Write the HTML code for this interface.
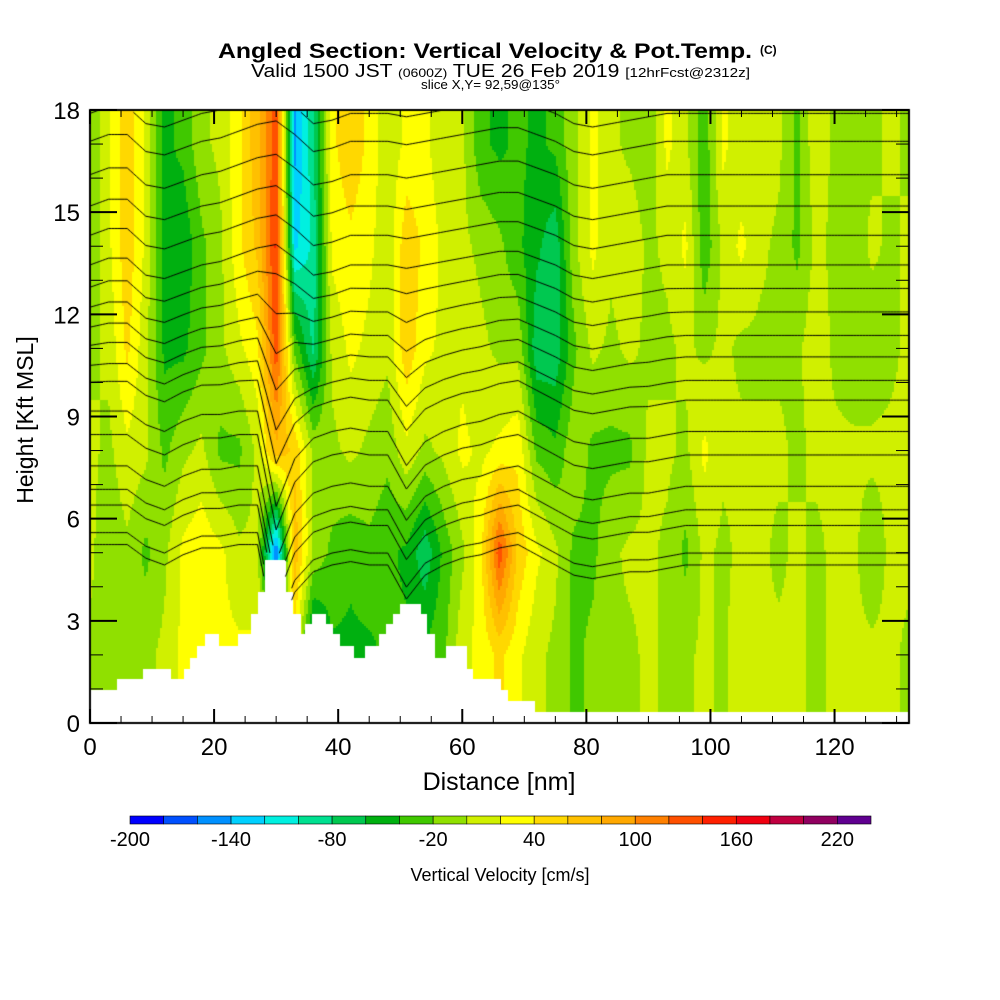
<!DOCTYPE html>
<html><head><meta charset="utf-8"><style>
html,body{margin:0;padding:0;background:#fff;width:1000px;height:1000px;overflow:hidden}
#wrap{position:relative;width:1000px;height:1000px}
canvas,svg{position:absolute;left:0;top:0}
text{font-family:"Liberation Sans",sans-serif;fill:#000}
</style></head><body>
<div id="wrap">
<canvas id="cv" width="1000" height="1000"></canvas>
<svg id="sv" width="1000" height="1000">
<text x="218" y="58" font-size="21" font-weight="bold" textLength="534" lengthAdjust="spacingAndGlyphs">Angled Section: Vertical Velocity &amp; Pot.Temp.</text>
<text x="760" y="54" font-size="12" font-weight="bold">(C)</text>
<text x="251" y="77" font-size="18" textLength="499" lengthAdjust="spacingAndGlyphs">Valid 1500 JST <tspan font-size="12">(0600Z)</tspan> TUE 26 Feb 2019 <tspan font-size="13">[12hrFcst@2312z]</tspan></text>
<text x="421" y="89" font-size="13" textLength="139" lengthAdjust="spacingAndGlyphs">slice X,Y= 92,59@135°</text>
<text transform="translate(33,420) rotate(-90)" text-anchor="middle" font-size="23">Height [Kft MSL]</text>
<text x="499" y="790" text-anchor="middle" font-size="25">Distance [nm]</text>
<text x="500" y="881" text-anchor="middle" font-size="18">Vertical Velocity [cm/s]</text>
<g id="g"></g>
</svg>
</div>
<script>
// ---- data ----
const colX = [0,3,6,9,12,15,18,21,24,27,30,33,36,39,42,45,48,51,54,57,60,63,66,69,72,75,78,81,84,87,90,93,96,99,102,105,108,111,114,117,120,123,126,129,132];
const rowH = [17,14,11,8,5,2];
const w17 = [-10,20,60,20,-40,-30,0,10,40,80,140,-140,-80,40,60,40,10,30,30,10,10,-30,-40,-30,-40,-30,0,30,10,0,-10,30,10,-30,30,10,20,10,-20,20,0,0,0,10,0];
const w14 = [-10,20,60,20,-40,-50,-20,0,40,70,150,-120,-90,30,40,30,10,60,40,20,10,0,-10,-30,-50,-70,0,30,10,20,0,10,30,-30,10,30,10,0,-20,10,0,-10,10,0,10];
const w11 = [0,10,50,10,-40,-40,-20,0,20,40,140,-20,-80,10,30,20,10,60,30,20,20,10,0,0,-70,-70,-20,10,0,10,0,0,10,0,10,0,0,0,0,20,0,-10,-10,0,10];
const w8  = [10,0,20,10,-20,0,10,-20,-20,10,80,60,0,0,10,0,-10,20,0,10,30,20,30,40,-20,-30,0,-20,-20,-20,10,10,0,30,10,10,10,10,0,10,10,10,10,10,10];
const w5  = [10,-10,0,-20,0,30,40,30,10,10,-160,80,0,-20,-30,-20,-30,-40,-70,-30,0,40,140,60,30,10,-20,-20,0,10,10,0,-20,10,0,10,10,0,10,0,10,10,-10,10,10];
const w2  = [0,0,-10,0,10,30,30,30,30,30,30,30,-80,-40,-40,-40,-30,-30,-30,-20,20,30,50,30,10,0,-20,-10,0,0,10,0,0,10,0,20,10,10,10,0,10,10,10,10,0];
const grid = [w17,w14,w11,w8,w5,w2];
const binColors = ["#0000ff","#0050ff","#0090ff","#00d0ff","#00f0e0","#00e090","#00c850","#00b010","#40c800","#90e000","#d0f000","#ffff00","#ffd800","#ffc000","#ffa800","#ff8000","#ff5000","#ff2000","#f00010","#c00040","#900060","#600090"];
const cbTicks = [-200,-140,-80,-20,40,100,160,220];
const terrStart = [0,4.3,8.6,12.9,15.1,16.1,17.3,18.5,20.5,23.8,26.0,27.0,28.2,31.4,32.5,33.7,34.6,35.8,37.8,38.9,40.1,42.2,44.4,46.6,47.7,48.8,49.9,53.0,54.1,55.3,57.4,60.5,61.6,66.0,67.1,71.5];
const terrH = [0.97,1.3,1.6,1.3,1.6,1.9,2.26,2.6,2.26,2.6,3.2,3.85,4.8,3.85,3.2,2.6,2.9,3.2,2.9,2.6,2.26,1.9,2.26,2.6,2.9,3.2,3.5,3.2,2.6,1.9,2.26,1.6,1.3,0.97,0.65,0.32];
const thetaLevels = [17.9,17.08,16.1,15.18,14.32,13.45,12.76,12.07,11.38,10.75,10.06,9.48,8.56,7.87,6.95,6.26,5.8,4.99,4.64];
const dispUpper = [0,.2,.2,-.3,-.4,-.2,0,.1,.3,.5,.6,.2,-.3,-.2,0,0,0,-.1,0,.1,.2,.3,.4,.4,.2,0,-.3,-.4,-.3,-.2,-.1,0,0,0,0,0,0,0,0,0,0,0,0,0,0];
const dispLower = [.6,.6,.6,.2,0,.3,.5,.5,.6,.6,-2.2,-.8,-.2,0,.1,0,0,-1.0,-.3,0,.2,.3,.5,.6,.3,0,-.3,-.4,-.3,-.2,-.2,-.1,0,0,0,0,0,0,0,0,0,0,0,0,0];
const xTicks = [0,20,40,60,80,100,120];
const yTicks = [0,3,6,9,12,15,18];

// ---- axes ----
const L=90,R=909,T=110,B=723, XMAX=132, YMAX=18;
const xs = v => L + (v/XMAX)*(R-L);
const ys = v => B - (v/YMAX)*(B-T);
const cbL=130, cbR=871, cbVmin=-200, cbVmax=240;
const cbx = v => cbL + (v-cbVmin)/(cbVmax-cbVmin)*(cbR-cbL);

function interpCol(arr, xv){
  let i=Math.min(colX.length-2, Math.max(0, Math.floor(xv/3)));
  let t=(xv-colX[i])/(colX[i+1]-colX[i]); t=Math.max(0,Math.min(1,t));
  return arr[i]*(1-t)+arr[i+1]*t;
}
function field(xv,hv){
  let h=Math.max(2,Math.min(17,hv));
  let j=0; while(j<rowH.length-2 && h<rowH[j+1]) j++;
  let t=(rowH[j]-h)/(rowH[j]-rowH[j+1]);
  return interpCol(grid[j],xv)*(1-t)+interpCol(grid[j+1],xv)*t;
}
function colorFor(v){
  let k=Math.floor((v-cbVmin)/20); k=Math.max(0,Math.min(binColors.length-1,k));
  return binColors[k];
}
function terrainAt(xv){
  let h=terrH[0];
  for(let i=0;i<terrStart.length;i++) if(xv>=terrStart[i]) h=terrH[i];
  return h;
}
const ctx=document.getElementById('cv').getContext('2d');
ctx.fillStyle='#fff';ctx.fillRect(0,0,1000,1000);
for(let px=L;px<R;px+=2){
  for(let py=T;py<B;py+=2){
    const xv=(px+1-L)/(R-L)*XMAX, hv=(B-(py+1))/(B-T)*YMAX;
    ctx.fillStyle=colorFor(field(xv,hv)-5);
    ctx.fillRect(px,py,2,2);
  }
}
// terrain
ctx.fillStyle='#fff';
for(let i=0;i<terrStart.length;i++){
  const x0=xs(terrStart[i]), x1=i+1<terrStart.length?xs(terrStart[i+1]):R;
  const y0=ys(terrH[i]);
  ctx.fillRect(Math.round(x0),Math.round(y0),Math.ceil(x1-x0)+1,B-Math.round(y0));
}
// theta contours
ctx.strokeStyle='#000';ctx.lineWidth=1;
for(const lev of thetaLevels){
  ctx.beginPath();
  let first=true;
  for(let xv=0;xv<=XMAX;xv+=0.5){
    const wU=Math.max(0,Math.min(1,(lev-9)/4));
    const d=interpCol(dispUpper,xv)*wU+interpCol(dispLower,xv)*(1-wU);
    let h=lev+d;
    if(h>18||h<terrainAt(xv)){first=true;continue;}
    const X=xs(xv),Y=ys(h);
    if(first){ctx.moveTo(X,Y);first=false;} else ctx.lineTo(X,Y);
  }
  ctx.stroke();
}
// frame
ctx.strokeStyle='#000';ctx.lineWidth=2;ctx.strokeRect(L,T,R-L,B-T);

// ---- svg ticks, labels, colorbar ----
const NS='http://www.w3.org/2000/svg', g=document.getElementById('g');
function mk(tag,attrs){const e=document.createElementNS(NS,tag);for(const k in attrs)e.setAttribute(k,attrs[k]);g.appendChild(e);return e;}
for(let v=0;v<=XMAX;v+=5){
  const major=v%20===0, len=major?14:7;
  const t1=mk('line',{x1:xs(v),x2:xs(v),y1:B,y2:B-len,stroke:'#000','stroke-width':major?2:1});
  
  
  const t2=mk('line',{x1:xs(v),x2:xs(v),y1:T,y2:T+len,stroke:'#000','stroke-width':major?2:1});
  
  
}
for(let v=0;v<=YMAX;v+=1){
  const major=v%3===0, len=major?27:13;
  const t1=mk('line',{x1:L,x2:L+len,y1:ys(v),y2:ys(v),stroke:'#000','stroke-width':major?2:1});
  
  
  const t2=mk('line',{x1:R,x2:R-len,y1:ys(v),y2:ys(v),stroke:'#000','stroke-width':major?2:1});
  
  
}
for(const v of xTicks){
  const t=mk('text',{x:xs(v),y:755,'text-anchor':'middle','font-size':24});
  t.textContent=v;
  
  
}
for(const v of yTicks){
  const t=mk('text',{x:80,y:ys(v)+9,'text-anchor':'end','font-size':24});
  t.textContent=v;
  
  
}
for(let i=0;i<binColors.length;i++){
  const v0=cbVmin+i*20;
  const r=mk('rect',{x:cbx(v0),y:816,width:cbx(v0+20)-cbx(v0),height:8,fill:binColors[i],stroke:'#000','stroke-width':0.6});
  
  
}
for(const v of cbTicks){
  const t=mk('text',{x:cbx(v),y:846,'text-anchor':'middle','font-size':20});
  t.textContent=v;
  
  
}
</script>
</body></html>
